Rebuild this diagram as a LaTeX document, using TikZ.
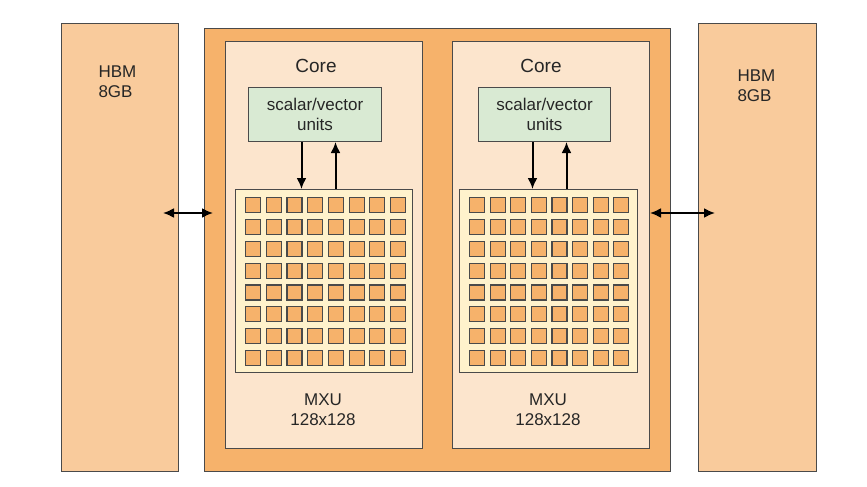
\documentclass[tikz,border=0pt]{standalone}
\usepackage{fontspec}
\setmainfont{Liberation Sans}
\usetikzlibrary{arrows.meta}

\definecolor{hbmfill}{HTML}{F9CB9C}
\definecolor{chipfill}{HTML}{F6B26B}
\definecolor{corefill}{HTML}{FCE5CD}
\definecolor{unitfill}{HTML}{D9EAD3}
\definecolor{gridfill}{HTML}{FFF2CC}
\definecolor{edge}{HTML}{4A4A4A}

\tikzset{
  box/.style={draw=edge, line width=1pt, anchor=north west, inner sep=0pt},
  cell/.style={draw=edge, line width=1.2pt, fill=chipfill, anchor=north west,
    minimum width=15pt, minimum height=15pt, inner sep=0pt},
  label/.style={align=left, font=\fontsize{17}{20}\selectfont, text=black!85},
  link/.style={line width=2pt, black, >={Latex[length=11pt,width=10pt]}}
}

\begin{document}
\begin{tikzpicture}[x=1pt, y=-1pt]
  \useasboundingbox (0,0) rectangle (867,487);

  % memory
  \node[box, fill=hbmfill, minimum width=117pt, minimum height=448pt] (hbmL) at (61,23) {};
  \node[box, fill=hbmfill, minimum width=118pt, minimum height=448pt] (hbmR) at (698,23) {};
  \node[label, anchor=north west] (hbmLtxt) at (95,62) {HBM\\8GB};
  \node[label, anchor=north west] (hbmRtxt) at (734,66) {HBM\\8GB};

  % chip and cores
  \node[box, fill=chipfill, minimum width=466pt, minimum height=443pt] (chip) at (204,28) {};
  \node[box, fill=corefill, minimum width=197pt, minimum height=407pt] (coreL) at (225,41) {};
  \node[box, fill=corefill, minimum width=197pt, minimum height=407pt] (coreR) at (452,41) {};
  \node[label, font=\fontsize{19}{22}\selectfont] (coreLtxt) at (316,66) {Core};
  \node[label, font=\fontsize{19}{22}\selectfont] (coreRtxt) at (541,66) {Core};

  \node[box, fill=unitfill, minimum width=133pt, minimum height=54pt] (svL) at (248,87) {};
  \node[box, fill=unitfill, minimum width=132pt, minimum height=54pt] (svR) at (478,87) {};
  \node[label, align=center] (svLtxt) at (svL.center) {scalar/vector\\units};
  \node[label, align=center] (svRtxt) at (svR.center) {scalar/vector\\units};

  \node[box, fill=gridfill, minimum width=177pt, minimum height=183pt] (mxuL) at (235,189) {};
  \node[box, fill=gridfill, minimum width=178pt, minimum height=183pt] (mxuR) at (459,189) {};
  \foreach \i in {0,...,7}
    \foreach \j in {0,...,7} {
      \node[cell] (cL-\i-\j) at ({245+20.7*\i},{197+21.85*\j}) {};
      \node[cell] (cR-\i-\j) at ({469+20.6*\i},{197+21.85*\j}) {};
    }
  \node[label, align=center] (mxuLtxt) at (323,410) {MXU\\128x128};
  \node[label, align=center] (mxuRtxt) at (548,410) {MXU\\128x128};

  % links
  \coordinate (memL) at (163,213);
  \coordinate (chipL) at (213,213);
  \coordinate (chipR) at (650,213);
  \coordinate (memR) at (715,213);
  \draw[link, <->] (memL) -- (chipL);
  \draw[link, <->] (chipR) -- (memR);

  \draw[link, ->] ([xshift=-13.5pt]svL.south) -- ([xshift=-13.5pt]svL.south |- mxuL.north);
  \draw[link, ->] ([xshift=20.5pt]svL.south |- mxuL.north) -- ([xshift=20.5pt]svL.south);
  \draw[link, ->] ([xshift=-12pt]svR.south) -- ([xshift=-12pt]svR.south |- mxuR.north);
  \draw[link, ->] ([xshift=22pt]svR.south |- mxuR.north) -- ([xshift=22pt]svR.south);
\end{tikzpicture}
\end{document}
